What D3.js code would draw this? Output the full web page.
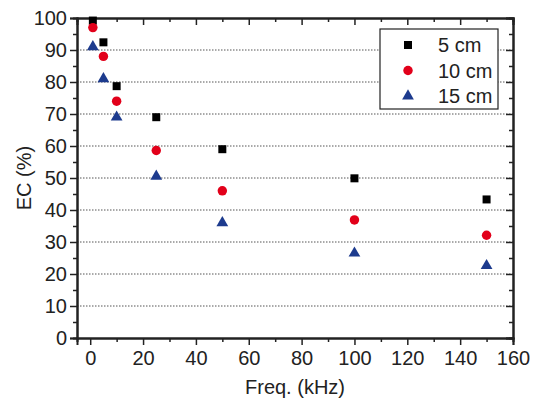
<!DOCTYPE html>
<html>
<head>
<meta charset="utf-8">
<script src="https://cdn.jsdelivr.net/npm/d3@7"></script>
<style>
  body { margin: 0; background: #fff; }
  text { font-family: "Liberation Sans", Arial, sans-serif; fill: #222; }
</style>
</head>
<body>
<svg id="chart"></svg>
<script>
// frequencies (kHz)
const freqs = [1, 5, 10, 25, 50, 100, 150];
// EC (%) per distance
const ec5 = [99.2, 92.4, 78.7, 69, 59, 49.9, 43.3];
const ec10 = [97, 88, 74, 58.6, 46, 36.9, 32.1];
const ec15 = [91, 81, 69, 50.5, 36, 26.5, 22.6];
const seriesNames = ['5 cm', '10 cm', '15 cm'];
const xTicks = [0, 20, 40, 60, 80, 100, 120, 140, 160];
const yTicks = [0, 10, 20, 30, 40, 50, 60, 70, 80, 90, 100];

const width = 534, height = 404;
const margin = { left: 77, right: 21, top: 18, bottom: 66 };

const svg = d3.select('#chart')
  .attr('width', width)
  .attr('height', height);

const x = d3.scaleLinear().domain([-5, 160]).range([margin.left, width - margin.right]);
const y = d3.scaleLinear().domain([0, 100]).range([height - margin.bottom, margin.top]);

const series = [
  { name: seriesNames[0], values: ec5, shape: d3.symbolSquare, size: 64, color: '#000' },
  { name: seriesNames[1], values: ec10, shape: d3.symbolCircle, size: 70, color: '#e2001a' },
  { name: seriesNames[2], values: ec15, shape: d3.symbolTriangle, size: 60, color: '#1d3b8e' }
];

// dotted grid
svg.append('g')
  .selectAll('line')
  .data(yTicks.filter(d => d > 0 && d < 100))
  .enter()
  .append('line')
  .attr('x1', x.range()[0])
  .attr('x2', x.range()[1])
  .attr('y1', d => y(d))
  .attr('y2', d => y(d))
  .style('stroke', '#555')
  .style('stroke-width', 1)
  .style('stroke-dasharray', '1.5,1.5');

const fmt = d3.format('d');

// bottom axis
svg.append('g')
  .attr('transform', `translate(0,${y(0)})`)
  .call(d3.axisBottom(x).tickValues(xTicks).tickFormat(fmt).tickSize(7).tickPadding(6));
svg.append('g')
  .attr('transform', `translate(0,${y(0)})`)
  .call(d3.axisBottom(x).tickValues(d3.range(10, 160, 20)).tickFormat('').tickSize(4));

// left axis
svg.append('g')
  .attr('transform', `translate(${x.range()[0]},0)`)
  .call(d3.axisLeft(y).tickValues(yTicks).tickFormat(fmt).tickSize(7).tickPadding(3));
svg.append('g')
  .attr('transform', `translate(${x.range()[0]},0)`)
  .call(d3.axisLeft(y).tickValues(d3.range(5, 100, 10)).tickFormat('').tickSize(4));

// top axis (ticks inward)
svg.append('g')
  .attr('transform', `translate(0,${y(100)})`)
  .call(d3.axisBottom(x).tickValues(xTicks).tickFormat('').tickSize(7));
svg.append('g')
  .attr('transform', `translate(0,${y(100)})`)
  .call(d3.axisBottom(x).tickValues(d3.range(10, 160, 20)).tickFormat('').tickSize(4));

// right axis (ticks inward)
svg.append('g')
  .attr('transform', `translate(${x.range()[1]},0)`)
  .call(d3.axisLeft(y).tickValues(yTicks).tickFormat('').tickSize(7));
svg.append('g')
  .attr('transform', `translate(${x.range()[1]},0)`)
  .call(d3.axisLeft(y).tickValues(d3.range(5, 100, 10)).tickFormat('').tickSize(4));

svg.selectAll('.domain').style('stroke', '#222').style('stroke-width', 2);
svg.selectAll('.tick line').style('stroke', '#222').style('stroke-width', 1.5);
svg.selectAll('.tick text').style('font-size', '20px').style('fill', '#222');

// markers
series.forEach(s => {
  svg.append('g')
    .selectAll('path')
    .data(freqs.map((f, i) => ({ f, v: s.values[i] })))
    .enter()
    .append('path')
    .attr('d', d3.symbol().type(s.shape).size(s.size))
    .attr('transform', d => `translate(${x(d.f)},${y(d.v)})`)
    .style('fill', s.color);
});

// axis titles
svg.append('text')
  .attr('x', 295)
  .attr('y', 394)
  .attr('text-anchor', 'middle')
  .style('font-size', '20px')
  .text('Freq. (kHz)');

svg.append('text')
  .attr('transform', `translate(31,${(y(0) + y(100)) / 2}) rotate(-90)`)
  .attr('text-anchor', 'middle')
  .style('font-size', '20px')
  .text('EC (%)');

// legend
const legend = svg.append('g').attr('transform', 'translate(380,29)');
legend.append('rect')
  .attr('width', 118)
  .attr('height', 80)
  .style('fill', '#fff')
  .style('stroke', '#222')
  .style('stroke-width', 1.2);

series.forEach((s, i) => {
  const row = legend.append('g').attr('transform', `translate(0,${16 + i * 25.5})`);
  row.append('path')
    .attr('d', d3.symbol().type(s.shape).size(s.size))
    .attr('transform', 'translate(28,0)')
    .style('fill', s.color);
  row.append('text')
    .attr('x', 58)
    .attr('dy', '0.35em')
    .style('font-size', '20px')
    .text(s.name);
});
</script>
</body>
</html>
